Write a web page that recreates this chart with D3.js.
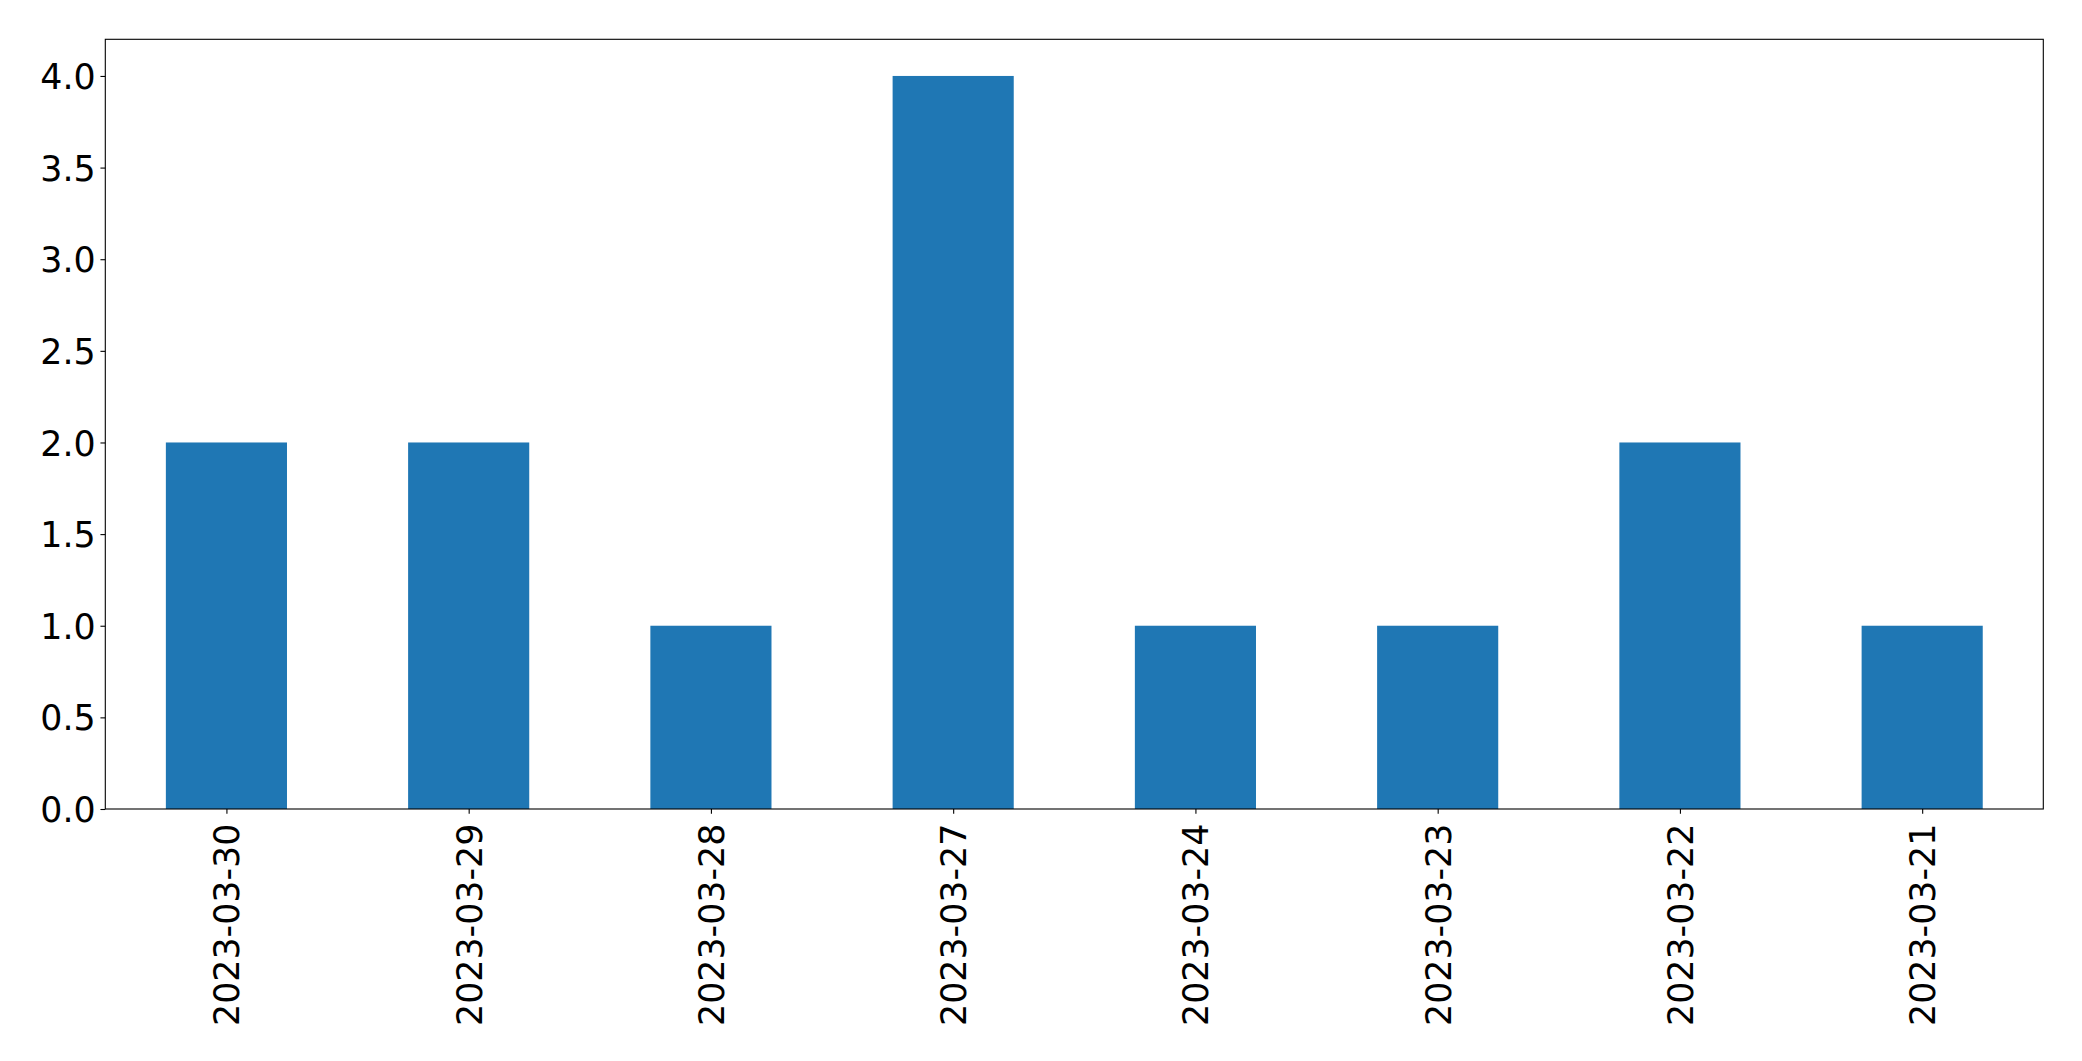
<!DOCTYPE html>
<html>
<head>
<meta charset="utf-8">
<script src="https://cdn.jsdelivr.net/npm/d3@7"></script>
<style>
  html, body { margin: 0; padding: 0; background: #fff; }
  svg { display: block; }
  text { font-family: "DejaVu Sans", sans-serif; }
</style>
</head>
<body>
<script>
const categories = ["2023-03-30", "2023-03-29", "2023-03-28", "2023-03-27", "2023-03-24", "2023-03-23", "2023-03-22", "2023-03-21"];
const values = [2, 2, 1, 4, 1, 1, 2, 1];
const yTicks = [0.0, 0.5, 1.0, 1.5, 2.0, 2.5, 3.0, 3.5, 4.0];

const W = 2082, H = 1061;
const m = { left: 105.3, right: 2043.3, top: 39.3, bottom: 809 };

const svg = d3.select("body").append("svg").attr("width", W).attr("height", H);

const x = d3.scaleLinear().domain([-0.5, categories.length - 0.5]).range([m.left, m.right]);
const y = d3.scaleLinear().domain([0, 4.2]).range([m.bottom, m.top]);
const barW = 0.5;

svg.append("g").selectAll("rect").data(values).join("rect")
  .attr("x", (d, i) => x(i - barW / 2))
  .attr("width", (d, i) => x(i + barW / 2) - x(i - barW / 2))
  .attr("y", d => y(d))
  .attr("height", d => y(0) - y(d))
  .attr("fill", "#1f77b4");

const tickLen = 4.86, pad = 4.86, fs = 34.8;

const yAxis = d3.axisLeft(y).tickValues(yTicks).tickFormat(d3.format(".1f"))
  .tickSizeInner(tickLen).tickSizeOuter(0).tickPadding(pad);
const gy = svg.append("g").attr("transform", `translate(${m.left},0)`).call(yAxis);
gy.select(".domain").remove();
gy.selectAll("line").attr("stroke", "#000").attr("stroke-width", 1.1);
gy.selectAll("text").attr("font-size", fs).attr("fill", "#000")
  .attr("font-family", "DejaVu Sans, sans-serif").attr("dy", "0.36em");

const xAxis = d3.axisBottom(x).tickValues(d3.range(categories.length))
  .tickFormat(i => categories[i]).tickSizeInner(tickLen).tickSizeOuter(0).tickPadding(pad);
const gx = svg.append("g").attr("transform", `translate(0,${m.bottom})`).call(xAxis);
gx.select(".domain").remove();
gx.selectAll("line").attr("stroke", "#000").attr("stroke-width", 1.1);
gx.selectAll("text")
  .attr("font-size", fs).attr("fill", "#000")
  .attr("font-family", "DejaVu Sans, sans-serif")
  .attr("text-anchor", "end")
  .attr("y", 0).attr("dy", "0.36em")
  .attr("transform", `translate(0,${tickLen + pad + 5}) rotate(-90)`);

svg.append("rect")
  .attr("x", m.left).attr("y", m.top)
  .attr("width", m.right - m.left).attr("height", m.bottom - m.top)
  .attr("fill", "none").attr("stroke", "#000").attr("stroke-width", 1.1);
</script>
</body>
</html>
